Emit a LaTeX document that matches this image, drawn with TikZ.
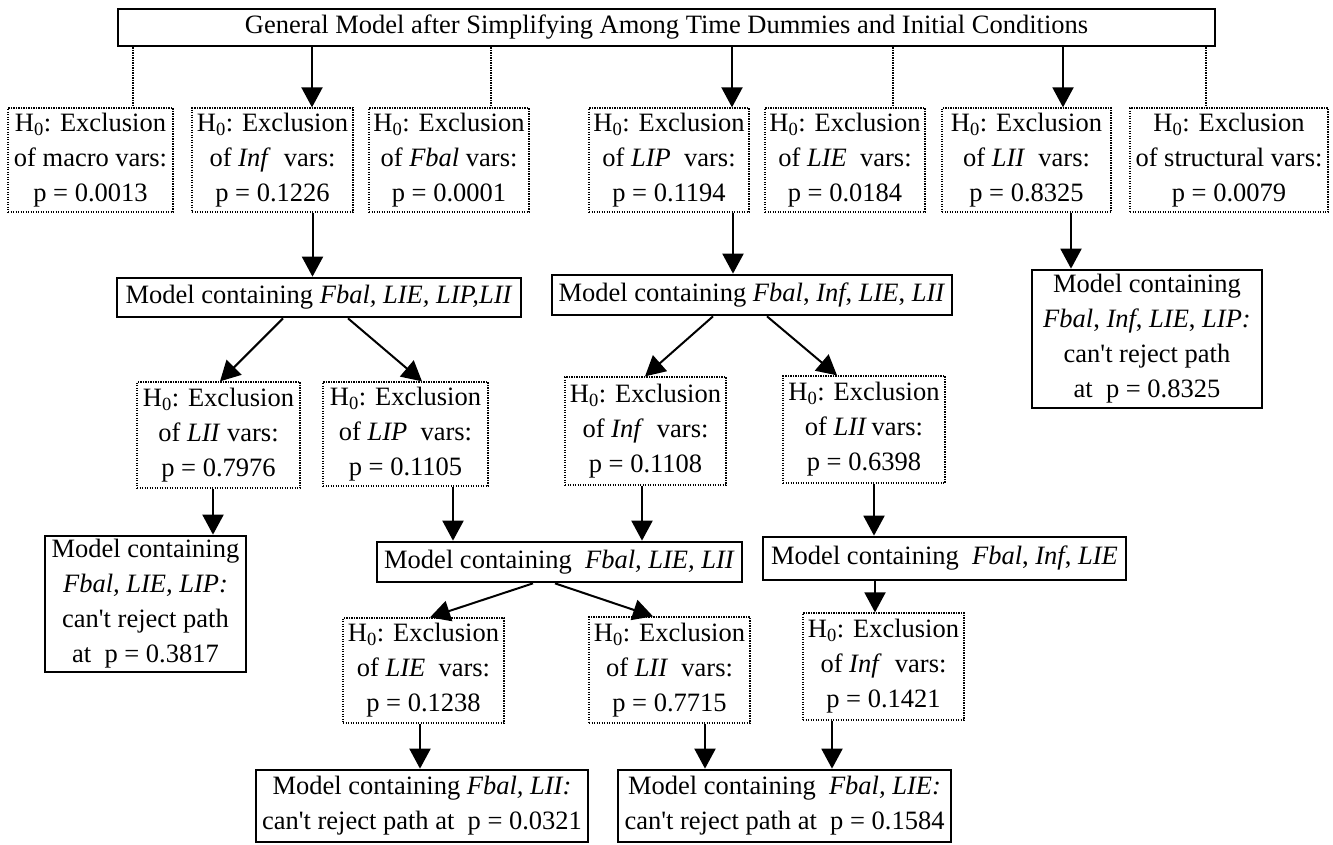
\documentclass[tikz,border=0pt]{standalone}
\usepackage{fontspec}
\setmainfont{Liberation Serif}[Ligatures=TeXOff]
\usetikzlibrary{arrows.meta}
\begin{document}
\begin{tikzpicture}[x=1pt,y=-1pt,
  txt/.style={inner sep=0pt, align=center, font=\fontsize{26.5}{35}\selectfont},
  solidbox/.style={txt, draw, line width=2.7pt},
  dotbox/.style={txt, draw, line width=1.3pt, dash pattern=on 1.2pt off 1.3pt},
  link/.style={line width=1.3pt, dash pattern=on 1.2pt off 1.3pt},
  arr/.style={line width=2pt, -{Triangle[width=21pt,length=20pt]}}]
\useasboundingbox (0,0) rectangle (1333,844);

% general model
\node[solidbox, minimum width=1097, minimum height=37] (top) at (666.5,27.5)
  {General Model after Simplifying Among Time Dummies and Initial Conditions};

% first round of exclusion tests
\node[dotbox, minimum width=165, minimum height=104] (macro) at (90.5,160)
  {H\textsubscript{0}: Exclusion\\of macro vars:\\p = 0.0013};
\node[dotbox, minimum width=161, minimum height=104] (inf1) at (272.5,160)
  {H\textsubscript{0}: Exclusion\\of \textit{Inf}\ \ vars:\\p = 0.1226};
\node[dotbox, minimum width=160, minimum height=104] (fbal1) at (449,160)
  {H\textsubscript{0}: Exclusion\\of \textit{Fbal} vars:\\p = 0.0001};
\node[dotbox, minimum width=160, minimum height=104] (lip1) at (669,160)
  {H\textsubscript{0}: Exclusion\\of \textit{LIP}\ \ vars:\\p = 0.1194};
\node[dotbox, minimum width=160, minimum height=104] (lie1) at (845,160)
  {H\textsubscript{0}: Exclusion\\of \textit{LIE}\ \ vars:\\p = 0.0184};
\node[dotbox, minimum width=169, minimum height=104] (lii1) at (1026.5,160)
  {H\textsubscript{0}: Exclusion\\of \textit{LII}\ \ vars:\\p = 0.8325};
\node[dotbox, minimum width=198, minimum height=104] (struct) at (1229,160)
  {H\textsubscript{0}: Exclusion\\of structural vars:\\p = 0.0079};

% reduced models
\node[solidbox, minimum width=404, minimum height=39] (m1) at (319,297.5)
  {Model containing \textit{Fbal, LIE, LIP,LII}};
\node[solidbox, minimum width=400, minimum height=40] (m2) at (752,295)
  {Model containing \textit{Fbal}, \textit{Inf}, \textit{LIE}, \textit{LII}};
\node[solidbox, minimum width=230, minimum height=138] (fr) at (1147,339)
  {Model containing\\\textit{Fbal}, \textit{Inf}, \textit{LIE}, \textit{LIP:}\\can't reject path\\at\ \ p = 0.8325};

% second round of exclusion tests
\node[dotbox, minimum width=163, minimum height=106] (lii3) at (218.5,435)
  {H\textsubscript{0}: Exclusion\\of \textit{LII} vars:\\p = 0.7976};
\node[dotbox, minimum width=165, minimum height=104] (lip3) at (405.5,434)
  {H\textsubscript{0}: Exclusion\\of \textit{LIP}\ \ vars:\\p = 0.1105};
\node[dotbox, minimum width=161, minimum height=108] (inf3) at (645.5,431)
  {H\textsubscript{0}: Exclusion\\of \textit{Inf}\ \ vars:\\p = 0.1108};
\node[dotbox, minimum width=162, minimum height=107] (lii3b) at (864,429.5)
  {H\textsubscript{0}: Exclusion\\of \textit{LII}\,vars:\\p = 0.6398};

\node[solidbox, minimum width=201, minimum height=136] (fl) at (145.5,604)
  {Model containing\\\textit{Fbal, LIE, LIP:}\\can't reject path\\at\ \ p = 0.3817};
\node[solidbox, minimum width=365, minimum height=40] (m3) at (559.5,562)
  {Model containing\ \ \textit{Fbal, LIE, LII}};
\node[solidbox, minimum width=363, minimum height=43] (m4) at (944.5,558.5)
  {Model containing\ \ \textit{Fbal}, \textit{Inf}, \textit{LIE}};

% third round of exclusion tests
\node[dotbox, minimum width=161, minimum height=105] (lie4) at (423.5,670.5)
  {H\textsubscript{0}: Exclusion\\of \textit{LIE}\ \ vars:\\p = 0.1238};
\node[dotbox, minimum width=161, minimum height=106] (lii4) at (669.5,670)
  {H\textsubscript{0}: Exclusion\\of \textit{LII}\ \ vars:\\p = 0.7715};
\node[dotbox, minimum width=161, minimum height=107] (inf4) at (883.5,666.5)
  {H\textsubscript{0}: Exclusion\\of \textit{Inf}\ \ vars:\\p = 0.1421};

% final models
\node[solidbox, minimum width=332, minimum height=72] (f1) at (422,806)
  {Model containing \textit{Fbal, LII:}\\can't reject path at\ \ p = 0.0321};
\node[solidbox, minimum width=333, minimum height=72] (f2) at (784.5,806)
  {Model containing\ \ \textit{Fbal, LIE:}\\can't reject path at\ \ p = 0.1584};

% rejected exclusions (dotted links)
\coordinate (d1) at ([xshift=42.5]macro.north);
\coordinate (d2) at ([xshift=42]fbal1.north);
\coordinate (d3) at ([xshift=48]lie1.north);
\coordinate (d4) at ([xshift=-23]struct.north);
\foreach \d in {d1,d2,d3,d4} \draw[link] (\d |- top.south) -- (\d);

% accepted exclusions (arrows from the general model)
\coordinate (t1) at ([xshift=39.5]inf1.north);
\coordinate (t2) at ([xshift=63]lip1.north);
\coordinate (t3) at ([xshift=36.5]lii1.north);
\foreach \t in {t1,t2,t3} \draw[arr] (\t |- top.south) -- (\t);

% vertical arrows between boxes
\coordinate (v1) at ([xshift=40]inf1.south);
\draw[arr] (v1) -- (v1 |- m1.north);
\coordinate (v2) at ([xshift=64]lip1.south);
\draw[arr] (v2) -- (v2 |- m2.north);
\coordinate (v3) at ([xshift=44.5]lii1.south);
\draw[arr] (v3) -- (v3 |- fr.north);
\coordinate (v4) at ([xshift=-5.5]lii3.south);
\draw[arr] (v4) -- (v4 |- fl.north);
\coordinate (v5) at ([xshift=47.5]lip3.south);
\draw[arr] (v5) -- (v5 |- m3.north);
\coordinate (v6) at ([xshift=-3.5]inf3.south);
\draw[arr] (v6) -- (v6 |- m3.north);
\coordinate (v7) at ([xshift=10]lii3b.south);
\draw[arr] (v7) -- (v7 |- m4.north);
\coordinate (v8) at ([xshift=-8.5]inf4.north);
\draw[arr] (v8 |- m4.south) -- (v8);
\coordinate (v9) at ([xshift=-3.5]lie4.south);
\draw[arr] (v9) -- (v9 |- f1.north);
\coordinate (v10) at ([xshift=35.5]lii4.south);
\draw[arr] (v10) -- (v10 |- f2.north);
\coordinate (v11) at ([xshift=-51.5]inf4.south);
\draw[arr] (v11) -- (v11 |- f2.north);

% diagonal arrows
\draw[arr] ([xshift=-36]m1.south) -- ([xshift=1.5]lii3.north);
\draw[arr] ([xshift=29]m1.south) -- ([xshift=16.5]lip3.north);
\draw[arr] ([xshift=-39]m2.south) -- ([xshift=-0.5]inf3.north);
\draw[arr] ([xshift=15]m2.south) -- ([xshift=-27]lii3b.north);
\draw[arr] ([xshift=-26.5]m3.south) -- ([xshift=6.5]lie4.north);
\draw[arr] ([xshift=-4.5]m3.south) -- ([xshift=-16.5]lii4.north);
\end{tikzpicture}
\end{document}
